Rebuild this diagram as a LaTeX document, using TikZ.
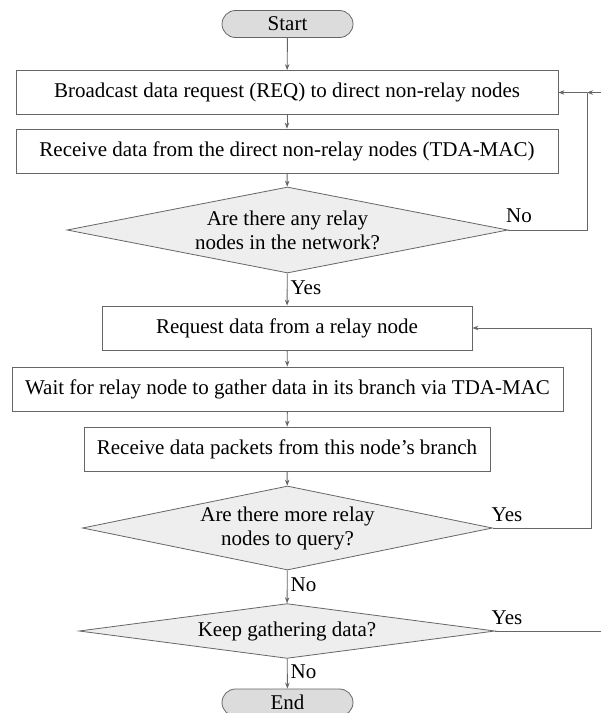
\documentclass[tikz,border=0pt]{standalone}
\usepackage{fontspec}
\setmainfont{Liberation Serif}
\usetikzlibrary{arrows.meta,shapes.geometric,shapes.misc}
\definecolor{linec}{HTML}{666666}
\definecolor{termfill}{HTML}{DCDCDC}
\definecolor{decfill}{HTML}{EEEEEE}
\begin{document}
\begin{tikzpicture}[x=1pt,y=-1pt,
  every node/.style={font=\fontsize{21}{24}\selectfont, inner sep=0pt},
  term/.style={draw=linec, fill=termfill, rounded rectangle, minimum width=131pt, minimum height=27pt, line width=0.8pt},
  stepbox/.style={draw=linec, fill=white, rectangle, minimum height=44pt, line width=0.8pt},
  dec/.style={draw=linec, fill=decfill, diamond, aspect=5, align=center, line width=0.8pt},
  conn/.style={draw=linec, line width=0.9pt},
  arr/.style={conn, -{Stealth[length=6pt,width=4.5pt]}},
  lbl/.style={anchor=west}
]
\useasboundingbox (0,0) rectangle (601,713);

\node[term] (start) at (287.5,24) {Start};
\node[stepbox, minimum width=542pt] (b1) at (287,92.5) {Broadcast data request (REQ) to direct non-relay nodes};
\node[stepbox, minimum width=542pt] (b2) at (287,151) {Receive data from the direct non-relay nodes (TDA-MAC)};
\node[dec, minimum width=441pt, minimum height=86pt] (d1) at (287.5,230) {Are there any relay\\nodes in the network?};
\node[stepbox, minimum width=370pt] (b3) at (287,328) {Request data from a relay node};
\node[stepbox, minimum width=551pt] (b4) at (287.5,389) {Wait for relay node to gather data in its branch via TDA-MAC};
\node[stepbox, minimum width=406pt] (b5) at (287,449) {Receive data packets from this node’s branch};
\node[dec, minimum width=410pt, minimum height=84pt] (d2) at (287.5,528) {Are there more relay\\nodes to query?};
\node[dec, minimum width=416pt, minimum height=53pt] (d3) at (287,631) {Keep gathering data?};
\node[term] (end) at (287.5,702.5) {End};

\coordinate (j1) at (587,92.5);
\coordinate (c1) at (587,230);
\coordinate (rin) at (601,92.5);
\coordinate (c2) at (591,528);
\coordinate (c3) at (591,328);
\coordinate (rout) at (601,631);

\draw[arr] (start) -- (b1);
\draw[arr] (b1) -- (b2);
\draw[arr] (b2) -- (d1);
\draw[arr] (d1) -- (b3) node[lbl, pos=0.45, xshift=3pt] {Yes};
\draw[conn] (d1.east) -- (c1) -- (j1);
\draw[arr] (j1) -- (b1.east);
\draw[arr] (rin) -- (j1);
\node at (519,216) {No};
\draw[arr] (b3) -- (b4);
\draw[arr] (b4) -- (b5);
\draw[arr] (b5) -- (d2);
\draw[conn] (d2.east) -- (c2) -- (c3);
\draw[arr] (c3) -- (b3.east);
\node at (507,515) {Yes};
\draw[arr] (d2) -- (d3) node[lbl, pos=0.45, xshift=3pt] {No};
\draw[conn] (d3.east) -- (rout);
\node at (507,618) {Yes};
\draw[arr] (d3) -- (end) node[lbl, pos=0.45, xshift=3pt] {No};
\end{tikzpicture}
\end{document}
